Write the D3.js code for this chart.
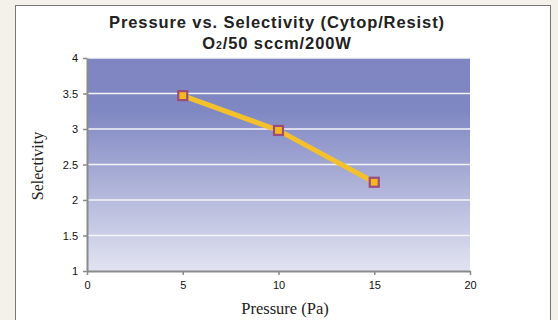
<!DOCTYPE html>
<html>
<head>
<meta charset="utf-8">
<script src="https://cdn.jsdelivr.net/npm/d3@7"></script>
<style>
  html, body { margin: 0; padding: 0; background: #f4f1ea; }
  svg { display: block; }
</style>
</head>
<body>
<svg id="chart" width="558" height="320"></svg>
<script>
var pressure = [5, 10, 15];
var selectivity = [3.47, 2.98, 2.25];
var xTicks = [0, 5, 10, 15, 20];
var yTicks = [1, 1.5, 2, 2.5, 3, 3.5, 4];

var svg = d3.select('#chart');

// white panel
svg.append('rect')
  .attr('x', 15.5).attr('y', 5.5)
  .attr('width', 535).attr('height', 320)
  .attr('fill', '#fff').attr('stroke', '#777');

var plotLeft = 87, plotRight = 470, plotTop = 58, plotBottom = 271;

var x = d3.scaleLinear().domain([0, 20]).range([plotLeft, plotRight]);
var y = d3.scaleLinear().domain([1, 4]).range([plotBottom, plotTop]);

var defs = svg.append('defs');
var grad = defs.append('linearGradient')
  .attr('id', 'bg').attr('x1', 0).attr('y1', 0).attr('x2', 0).attr('y2', 1);
grad.append('stop').attr('offset', '0%').attr('stop-color', '#7e85c1');
grad.append('stop').attr('offset', '25%').attr('stop-color', '#8088c3');
grad.append('stop').attr('offset', '100%').attr('stop-color', '#e2e3f1');

svg.append('rect')
  .attr('x', plotLeft).attr('y', plotTop)
  .attr('width', plotRight - plotLeft).attr('height', plotBottom - plotTop)
  .attr('fill', 'url(#bg)');

// gridlines
svg.append('g').selectAll('line')
  .data(yTicks.filter(function(d) { return d > 1; }))
  .enter().append('line')
  .attr('x1', plotLeft).attr('x2', plotRight)
  .attr('y1', function(d) { return y(d); })
  .attr('y2', function(d) { return y(d); })
  .attr('stroke', '#f4f4fa').attr('stroke-width', 1.3);

// axes
var fmt = d3.format('~g');
var xAxis = svg.append('g')
  .attr('transform', 'translate(0,' + plotBottom + ')')
  .call(d3.axisBottom(x).tickValues(xTicks).tickFormat(fmt).tickSize(4).tickSizeOuter(0).tickPadding(6));
var yAxis = svg.append('g')
  .attr('transform', 'translate(' + plotLeft + ',0)')
  .call(d3.axisLeft(y).tickValues(yTicks).tickFormat(fmt).tickSize(4).tickSizeOuter(0).tickPadding(5));

[xAxis, yAxis].forEach(function(a) {
  a.select('.domain').attr('stroke', '#8a8a8a').attr('stroke-width', 2);
  a.selectAll('.tick line').attr('stroke', '#8a8a8a').attr('stroke-width', 1.5);
  a.selectAll('.tick text')
    .attr('fill', '#111')
    .style('font-family', 'Liberation Sans, Arial, sans-serif')
    .style('font-size', '11px');
});

// series
var pts = pressure.map(function(p, i) { return [p, selectivity[i]]; });
svg.append('path')
  .datum(pts)
  .attr('fill', 'none')
  .attr('stroke', '#f4c02c')
  .attr('stroke-width', 5)
  .attr('d', d3.line().x(function(d) { return x(d[0]); }).y(function(d) { return y(d[1]); }));

svg.append('g').selectAll('rect')
  .data(pts)
  .enter().append('rect')
  .attr('x', function(d) { return x(d[0]) - 4.5; })
  .attr('y', function(d) { return y(d[1]) - 4.5; })
  .attr('width', 9).attr('height', 9)
  .attr('fill', '#f5b81f')
  .attr('stroke', '#9a4c7c').attr('stroke-width', 2.2);

// titles
var title = svg.append('text')
  .attr('text-anchor', 'middle')
  .style('font-family', 'Liberation Sans, Arial, sans-serif')
  .style('font-weight', 'bold')
  .style('font-size', '16.5px')
  .style('letter-spacing', '0.9px')
  .attr('fill', '#222');
title.append('tspan').attr('x', 277).attr('y', 28).text('Pressure vs. Selectivity (Cytop/Resist)');
var l2 = title.append('tspan').attr('x', 277).attr('y', 49);
l2.append('tspan').text('O');
l2.append('tspan').style('font-size', '10.5px').text('2');
l2.append('tspan').text('/50 sccm/200W');

svg.append('text')
  .attr('x', 285).attr('y', 314)
  .attr('text-anchor', 'middle')
  .style('font-family', 'Liberation Serif, Times New Roman, serif')
  .style('font-size', '16.5px')
  .attr('fill', '#222')
  .text('Pressure (Pa)');

svg.append('text')
  .attr('transform', 'translate(43,' + 166 + ') rotate(-90)')
  .attr('text-anchor', 'middle')
  .style('font-family', 'Liberation Serif, Times New Roman, serif')
  .style('font-size', '16px')
  .attr('fill', '#222')
  .text('Selectivity');
</script>
</body>
</html>
